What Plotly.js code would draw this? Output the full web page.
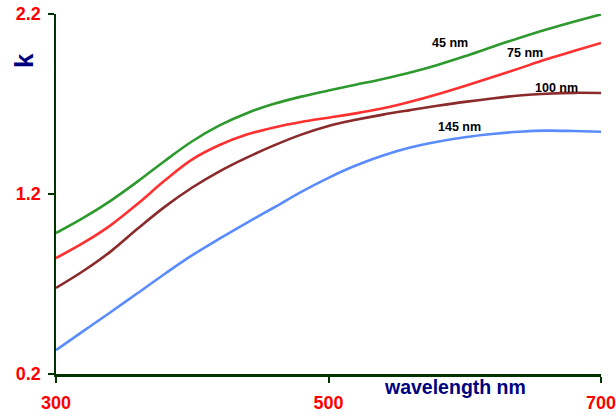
<!DOCTYPE html>
<html>
<head>
<meta charset="utf-8">
<script src="https://cdn.plot.ly/plotly-3.0.1.min.js"></script>
<style>html,body{margin:0;padding:0;background:#fff;}#chart{width:616px;height:416px;}</style>
</head>
<body>
<div id="chart"></div>
<script>
const wavelength = [300,320,340,360,380,400,420,440,460,480,500,520,540,560,580,600,620,640,660,680,700];
const k45  = [0.983,1.067,1.162,1.270,1.385,1.493,1.581,1.649,1.701,1.741,1.775,1.807,1.839,1.875,1.917,1.965,2.017,2.067,2.114,2.157,2.198];
const k75  = [0.844,0.928,1.026,1.146,1.276,1.392,1.472,1.530,1.570,1.600,1.624,1.648,1.676,1.712,1.754,1.800,1.848,1.898,1.948,1.994,2.039];
const k100 = [0.678,0.772,0.880,1.008,1.130,1.236,1.326,1.402,1.470,1.530,1.578,1.612,1.641,1.666,1.690,1.712,1.731,1.747,1.757,1.762,1.761];
const k145 = [0.333,0.438,0.543,0.650,0.757,0.860,0.952,1.040,1.125,1.212,1.290,1.358,1.414,1.458,1.490,1.515,1.533,1.546,1.552,1.550,1.546];
const seriesLabels = ["45 nm","75 nm","100 nm","145 nm"];
const labelX = [589, 644, 667, 596];
const labelY = [2.039, 1.984, 1.790, 1.574];
const xTicks = [300,500,700];
const yTicks = [0.2,1.2,2.2];
const yTickText = ["0.2","1.2","2.2"];

const colors = ["#2e9a2e","#ff3030","#8b2a2a","#5a8cff"];
const series = [k45,k75,k100,k145];
const traces = series.map((ys,i)=>({
  x: wavelength, y: ys, type:'scatter', mode:'lines',
  line:{color:colors[i], width:2.6, shape:'spline', smoothing:1},
  hoverinfo:'skip', showlegend:false
}));

const annFont = {family:'Liberation Sans, Arial, sans-serif', size:12.5, color:'#000', weight:'bold'};
const annotations = seriesLabels.map((t,i)=>({
  x: labelX[i], y: labelY[i], xref:'x', yref:'y', text:t, showarrow:false, font:annFont,
  xanchor:'center', yanchor:'middle'
}));
annotations.push({
  xref:'paper', yref:'paper', x:(455-56)/545, y:(374.5-388)/360.5, text:'wavelength nm', showarrow:false,
  xanchor:'center', yanchor:'middle',
  font:{family:'Liberation Sans, Arial, sans-serif', size:19.5, color:'#000080', weight:'bold'}
});
annotations.push({
  xref:'paper', yref:'paper', x:(24-56)/545, y:(374.5-61)/360.5, text:'k', showarrow:false, textangle:-90,
  xanchor:'center', yanchor:'middle',
  font:{family:'Liberation Sans, Arial, sans-serif', size:26, color:'#000080', weight:'bold'}
});

const tickFont = {family:'Liberation Sans, Arial, sans-serif', size:18, color:'#ff0000', weight:'bold'};
const layout = {
  width:616, height:416,
  margin:{l:56, r:15, t:14, b:41.5, pad:0},
  paper_bgcolor:'#fff', plot_bgcolor:'#fff',
  xaxis:{range:[300,700], tickvals:xTicks, ticktext:xTicks.map(String), showgrid:false, zeroline:false,
    showline:true, linecolor:'#003300', linewidth:2.5, ticks:'outside', ticklen:6, tickwidth:2, tickcolor:'#003300',
    tickfont:tickFont, ticklabelstandoff:5, ticklabeloverflow:'allow'},
  yaxis:{range:[0.2,2.2], tickvals:yTicks, ticktext:yTickText, showgrid:false, zeroline:false,
    showline:true, linecolor:'#003300', linewidth:2.5, ticks:'outside', ticklen:6, tickwidth:2, tickcolor:'#003300',
    tickfont:tickFont, ticklabelstandoff:3, ticklabeloverflow:'allow'},
  annotations: annotations
};
Plotly.newPlot('chart', traces, layout, {staticPlot:true, displayModeBar:false});
</script>
</body>
</html>
